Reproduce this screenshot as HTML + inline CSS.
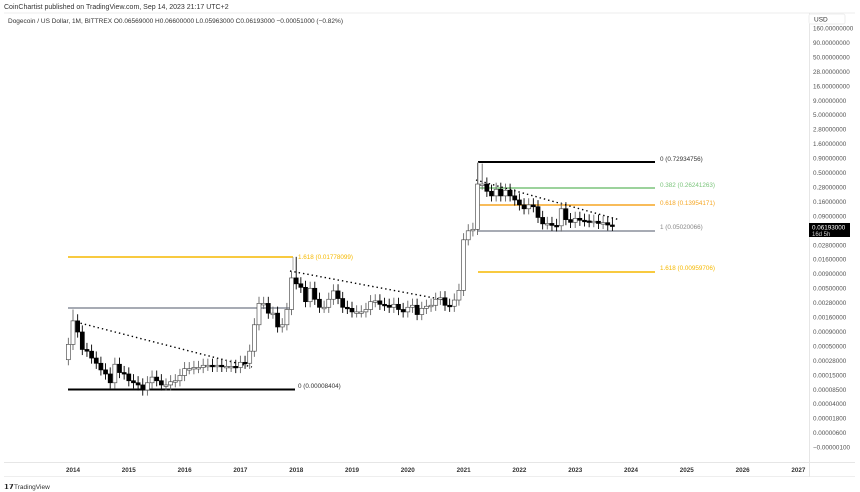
<!DOCTYPE html>
<html><head><meta charset="utf-8"><style>
body{margin:0;background:#fff;font-family:"Liberation Sans",sans-serif;}
svg{display:block}
</style></head><body>
<svg id="s" width="860" height="492" xmlns="http://www.w3.org/2000/svg" font-family="Liberation Sans, sans-serif">
<rect width="860" height="492" fill="#fff"/>
<text x="4" y="9" font-size="7" fill="#333">CoinChartist published on TradingView.com, Sep 14, 2023 21:17 UTC+2</text>
<text x="8" y="23" font-size="6.5" fill="#333">Dogecoin / US Dollar, 1M, BITTREX  O0.06569000  H0.06600000  L0.05963000  C0.06193000  −0.00051000 (−0.82%)</text>
<line x1="4" y1="13" x2="855" y2="13" stroke="#eee"/>
<line x1="4" y1="462.5" x2="855" y2="462.5" stroke="#e6e6e6"/>
<line x1="4" y1="476.5" x2="855" y2="476.5" stroke="#eee"/>
<line x1="809.5" y1="13" x2="809.5" y2="477" stroke="#e6e6e6"/>
<rect x="809" y="14" width="36" height="10" fill="#fff" stroke="#eee" rx="2"/>
<text x="814" y="21.5" font-size="6.5" fill="#333">USD</text>
<g id="axis" font-size="6.3" fill="#555"></g>
<g id="years" font-size="6.3" fill="#333" font-weight="bold"></g>
<g id="lines"></g>
<g id="candles"></g>
<rect x="809" y="223" width="41" height="14" fill="#000"/>
<text x="812" y="229.5" font-size="6.3" fill="#fff">0.06193000</text>
<text x="812" y="236" font-size="6" fill="#ccc">16d 5h</text>
<text x="4" y="489" font-size="7" font-weight="bold" fill="#222">𝟭𝟳</text>
<text x="14" y="489" font-size="6.5" fill="#333">TradingView</text>
</svg>
<script>
const NS="http://www.w3.org/2000/svg";
function el(p,t,a,txt){const e=document.createElementNS(NS,t);for(const k in a)e.setAttribute(k,a[k]);if(txt)e.textContent=txt;document.getElementById(p).appendChild(e);return e;}
const Y=p=>158-58*Math.log10(p/0.9);
const labs=["160.00000000","90.00000000","50.00000000","28.00000000","16.00000000","9.00000000","5.00000000","2.80000000","1.60000000","0.90000000","0.50000000","0.28000000","0.16000000","0.09000000",null,"0.02800000","0.01600000","0.00900000","0.00500000","0.00280000","0.00160000","0.00090000","0.00050000","0.00028000","0.00015000","0.00008500","0.00004000","0.00001800","0.00000600","−0.00000100"];
labs.forEach((l,i)=>{if(l)el("axis","text",{x:813,y:30.5+i*14.45},l)});
for(let i=0;i<14;i++)el("years","text",{x:73+i*55.8,y:472,"text-anchor":"middle"},String(2014+i));
const L=(x1,y1,x2,y2,c,w,d)=>el("lines","line",Object.assign({x1,y1,x2,y2,stroke:c,"stroke-width":w},d?{"stroke-dasharray":d}:{}));
L(68,257,293,257,"#f5b800",1.5);L(293,257,293,270,"#999",0.8);
L(68,308,290,308,"#8a8f9c",1.5);
L(68,389.5,295,389.5,"#000",2);
L(478,162,655,162,"#000",2);L(478,162,478,231,"#999",0.8);
L(478,188,655,188,"#7bc47b",1.5);
L(478,205,655,205,"#f5a623",1.5);
L(478,231,655,231,"#8a8f9c",1.5);
L(478,272,655,272,"#f5b800",1.5);
L(72,321,252,367,"#000",1.4,"1.4 3");
L(290,271,445,300,"#000",1.4,"1.4 3");
L(476,180,620,220,"#000",1.4,"1.4 3");
const T=(x,y,c,t)=>el("lines","text",{x,y,"font-size":6.3,fill:c},t);
T(298,259,"#f5b800","1.618 (0.01778099)");
T(298,388,"#333","0 (0.00008404)");
T(660,161,"#333","0 (0.72934756)");
T(660,187,"#7bc47b","0.382 (0.26241263)");
T(660,205,"#f5a623","0.618 (0.13954171)");
T(660,229,"#888","1 (0.05020066)");
T(660,270,"#f5b800","1.618 (0.00959706)");
const C=[0.00055,
0.0014,0.0009,0.00045,0.00042,0.00032,0.00026,0.0002,0.00017,0.00012,0.00025,0.00018,0.00017,
0.00013,0.00012,0.00011,0.00009,0.00012,0.00015,0.00013,0.00011,0.00011,0.000125,0.00013,0.00016,
0.00021,0.00021,0.00022,0.00022,0.00024,0.00024,0.00023,0.00024,0.00023,0.00023,0.00023,0.00022,
0.00027,0.00026,0.00042,0.0012,0.0028,0.0028,0.0019,0.0019,0.0011,0.0012,0.0022,0.0077,
0.0061,0.0053,0.003,0.0051,0.0033,0.0024,0.0024,0.0033,0.0046,0.0034,0.0024,0.0023,
0.0020,0.0020,0.0020,0.0022,0.0030,0.0031,0.0027,0.0026,0.0024,0.0027,0.0022,0.0020,
0.0024,0.0026,0.0018,0.0023,0.0025,0.0026,0.0033,0.0035,0.0026,0.0025,0.0032,0.0047,
0.035,0.050,0.053,0.32,0.32,0.24,0.20,0.26,0.20,0.25,0.20,0.17,
0.14,0.12,0.14,0.13,0.085,0.066,0.067,0.062,0.061,0.12,0.078,0.070,
0.082,0.076,0.074,0.072,0.073,0.067,0.069,0.063,0.062];
let o=0.0003;
C.forEach((c,i)=>{
 const x=73+(i-1)*4.65;
 let hi=Math.max(o,c)*1.3,lo=Math.min(o,c)/1.25;
 if(i==1)hi=0.0022; if(i==49)hi=0.0178; if(i==88)hi=0.74; if(i==89)hi=0.72;
 const yo=Y(o),yc=Y(c),top=Math.min(yo,yc),h=Math.max(1.5,Math.abs(yo-yc));
 const bull=c>=o;
 el("candles","line",{x1:x,y1:Y(hi),x2:x,y2:Y(lo),stroke:bull?"#666":"#000","stroke-width":0.9});
 el("candles","rect",{x:x-2,y:top,width:4,height:h,fill:bull?"#fff":"#000",stroke:bull?"#555":"#000","stroke-width":0.7});
 o=c;
});
</script>
</body></html>
